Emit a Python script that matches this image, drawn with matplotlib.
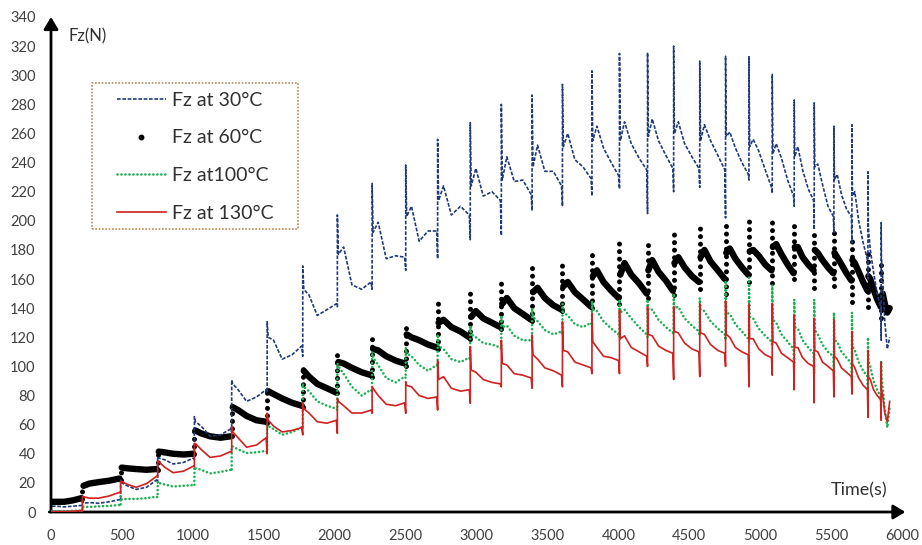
import numpy as np
import matplotlib
matplotlib.use("Agg")
import matplotlib.pyplot as plt
from matplotlib.lines import Line2D
from matplotlib.patches import Rectangle

plt.rcParams['font.family'] = ['Lato', 'DejaVu Sans']

# ---------------- data ----------------
cycle_start = [0, 221, 491, 752, 1011, 1274, 1524, 1775, 2019, 2264, 2501, 2726,
               2956, 3175, 3392, 3606, 3814, 4008, 4206, 4390, 4574, 4756, 4921,
               5085, 5240, 5381, 5520, 5647, 5760, 5853]
data_end = 5915
# relative position inside each loading cycle of the five read values
cycle_frac = [0.03, 0.18, 0.42, 0.70, 0.97]

x_ticks = list(range(0, 6001, 500))
y_ticks = list(range(0, 341, 20))

# Fz at 30°C  : [start, peak, mid, low, end] per cycle
fz30 = [[4, 4, 3.5, 4, 4.5], [6, 6.5, 6, 7, 8.5], [20, 18, 15.5, 17, 22],
        [37, 36, 33, 34, 37], [62, 59, 52, 53, 57], [88, 84, 76, 79, 84],
        [120, 118, 105, 108, 114], [153, 149, 135, 139, 143], [177, 182, 156, 153, 158],
        [192, 199, 174, 176, 175], [203, 210, 186, 193, 193], [214, 224, 204, 210, 204],
        [224, 236, 217, 220, 214], [228, 244, 227, 228, 218], [237, 252, 234, 234, 224],
        [251, 260, 242, 237, 229], [255, 265, 250, 240, 231], [255, 268, 253, 243, 235],
        [258, 270, 255, 245, 236], [260, 268, 253, 244, 236], [255, 266, 255, 245, 235],
        [258, 261, 250, 240, 232], [251, 256, 248, 235, 223], [246, 253, 243, 228, 217],
        [244, 251, 235, 222, 214], [237, 239, 225, 210, 203], [228, 232, 218, 208, 203],
        [217, 220, 200, 185, 173], [195, 180, 165, 150, 140], [175, 160, 130, 112, 120]]
fz30_top = [None, 9, 22, 38, 65.5, 90.7, 130.7, 169, 204, 225.7, 238.3, 256, 267.4,
            280, 286.4, 293.7, 303, 315, 315.5, 320, 309.7, 313, 312.7, 300.6, 283,
            281, 265, 266, 233.7, 198.7]
fz30_bottom = [None, 5, 8, 20, 36, 55, 82, 107, 141, 153, 166, 174, 187, 190, 207,
               210, 217, 222, 205, 220, 223, 202, 228, 219, 210, 194, 192, 185, 160, 118]

# Fz at 60°C
fz60 = [[7, 7, 7, 8, 9.5], [18, 19.5, 20.5, 21.5, 23], [30.5, 30, 29.5, 29, 29.5],
        [41.5, 41, 40, 39.5, 40], [56, 54, 52, 51, 52], [72, 70, 66, 63, 62],
        [83, 81, 78, 75, 73], [97, 93, 88, 85, 82], [103, 102, 99, 96, 94],
        [112, 111, 107, 104, 102], [122, 120, 118, 115, 113], [130, 132, 127, 124, 120],
        [134, 138, 133, 130, 127], [143, 147, 140, 136, 132], [151, 154, 147, 142, 139],
        [155, 158, 151, 146, 141], [162, 166, 158, 152, 147], [163, 171, 163, 157, 150],
        [166, 173, 165, 159, 152], [171, 175, 168, 162, 158], [175, 180, 172, 166, 160],
        [178, 181, 174, 168, 163], [179, 180, 176, 170, 166], [182, 184, 177, 170, 164],
        [182, 182, 175, 170, 166], [180, 178, 173, 168, 164], [178, 175, 170, 164, 159],
        [173, 171, 165, 158, 152], [162, 160, 153, 146, 141], [148, 150, 143, 137, 140]]
fz60_top = [None, 19, 31, 42, 57, 73.5, 86.5, 98.7, 112, 121.6, 129.6, 144.4, 151.3,
            159.3, 167.4, 173, 180.4, 185.6, 188, 192.5, 196.4, 201, 203.5, 201.7, 197,
            192.5, 193, 190, 180, 171]
fz60_bottom = [None, 9, 22, 29, 40, 52, 61, 72, 82, 93, 100, 112, 119, 126, 131, 138,
               140, 143, 147, 149, 153, 150, 158, 157, 160, 154, 155, 144, 141, 133]

# Fz at 100°C
fz100 = [[0.5, 0.5, 0.5, 0.8, 1], [3.5, 3.5, 3.8, 4.2, 4.8], [8.5, 9, 9, 9.5, 10.5],
         [20, 19, 17.5, 18, 18.5], [30, 29, 26.5, 27.5, 29], [45, 43, 40.5, 41, 42],
         [59, 57, 53, 55, 58], [86, 83, 76, 73, 71], [100, 95, 86, 80, 84],
         [106, 101, 92, 89, 93], [109, 107, 101, 97, 101], [114, 112, 105, 103, 106],
         [122, 120, 116, 115, 113], [127, 128, 121, 118, 118], [134, 131, 125, 122, 124],
         [137, 135, 129, 127, 130], [139, 138, 131, 126, 122], [137, 139, 133, 127, 122],
         [139, 139, 132, 127, 123], [140, 141, 133, 128, 124], [139, 138, 131, 126, 122],
         [137, 136, 129, 124, 119], [134, 133, 126, 121, 117], [132, 130, 122, 117, 112],
         [127, 126, 118, 113, 109], [125, 122, 115, 110, 107], [118, 117, 110, 106, 102],
         [114, 111, 103, 97, 93], [104, 100, 90, 84, 79], [93, 85, 70, 58, 72]]
fz100_top = [None, 4, 11, 21, 31, 45, 60, 88, 102, 110, 113, 122, 128, 135, 140, 143,
             145, 146, 146, 150, 147, 159, 161, 156, 146, 146, 137, 137, 120, 104]
fz100_bottom = [None, 1, 4, 10, 18, 28, 41, 57, 70, 82, 92, 100, 104, 112, 117, 122,
                128, 120, 120, 122, 121, 118, 117, 114, 100, 95, 96, 92, 84, 72]

# Fz at 130°C
fz130 = [[0.3, 0.3, 0.3, 0.5, 1], [10.5, 9.5, 9.5, 11, 13.5], [21, 19, 17, 19.5, 24.5],
         [34.5, 31, 27, 28, 31.5], [47, 43, 37.5, 38.5, 41.5], [55, 51, 44.5, 46, 51],
         [63, 59, 55, 56, 58], [71, 68, 62, 61, 63], [76, 73, 68, 68, 70],
         [85, 80, 74, 73, 75], [87, 86, 80, 78, 79], [91, 93, 85, 83, 84],
         [97.5, 96, 91, 89, 88], [102, 101, 95, 94, 92], [108, 105, 99, 97, 94],
         [111, 110, 103, 101, 99], [117, 113, 107, 106, 104], [119, 121, 113, 110, 107],
         [122, 121, 114, 111, 109], [124, 123, 116, 112, 110], [123, 122, 115, 111, 109],
         [122, 120, 113, 110, 108], [119, 119, 112, 108, 106], [117, 116, 109, 106, 103],
         [113, 113, 106, 102, 100], [111, 110, 103, 100, 97], [107, 105, 99, 96, 93],
         [102, 99, 92, 87, 84], [93, 91, 84, 80, 77], [84, 80, 68, 62, 76]]
fz130_top = [None, 10.5, 21, 35, 47, 58.6, 67.8, 74.7, 78, 86, 89.5, 104, 113.5, 118,
             121.6, 130.7, 136.5, 138.7, 141, 141, 143, 145, 143, 143, 135, 133, 132,
             124, 111, 103]
fz130_bottom = [None, 0, 13, 24, 31, 41, 40, 53, 54, 67.8, 67.8, 70, 74.7, 86, 85, 86,
                95, 95, 100, 91, 93, 100, 86, 94, 84, 75, 79, 81, 65, 63]

labels = ['Fz at 30°C', 'Fz at 60°C', 'Fz at100°C', 'Fz at 130°C']
c_blue, c_black, c_green, c_red = '#1F3A7A', '#000000', '#1DB050', '#D02020'


def build_line(vals, tops, bottoms):
    bounds = cycle_start + [data_end]
    t, v = [], []
    for k in range(len(cycle_start)):
        t0, t1 = bounds[k], bounds[k + 1]
        if k > 0:
            t += [t0, t0]
            v += [bottoms[k], tops[k]]
        for f, y in zip(cycle_frac, vals[k]):
            t.append(t0 + f * (t1 - t0))
            v.append(y)
    return t, v


def build_body(vals):
    bounds = cycle_start + [data_end]
    t, v = [], []
    for k in range(len(cycle_start)):
        t0, t1 = bounds[k], bounds[k + 1]
        for f, y in zip(cycle_frac, vals[k]):
            t.append(t0 + f * (t1 - t0))
            v.append(y)
        t.append(np.nan)
        v.append(np.nan)
    return t, v


W, H = 922, 545
fig = plt.figure(figsize=(W / 100, H / 100), dpi=100)
ax = fig.add_axes([51 / W, (H - 512) / H, 851 / W, 495 / H])
ax.set_xlim(0, 6000)
ax.set_ylim(0, 340)

# 60°C : dense black dots -> thick band + dotted vertical jumps
tb, vb = build_body(fz60)
ax.plot(tb, vb, color=c_black, lw=4.6, solid_capstyle='round',
        solid_joinstyle='round', zorder=2)
vl = ax.vlines(cycle_start[1:], fz60_bottom[1:], fz60_top[1:], colors=c_black,
               linewidths=3.6, linestyles=(0, (0.01, 1.5)), zorder=2)
vl.set_capstyle('round')

# 30°C
t, v = build_line(fz30, fz30_top, fz30_bottom)
ax.plot(t, v, color=c_blue, lw=1.2, ls=(0, (2.2, 1.0)), zorder=3)
# 100°C
t, v = build_line(fz100, fz100_top, fz100_bottom)
ax.plot(t, v, color=c_green, lw=1.9, ls=(0, (0.01, 1.5)), dash_capstyle='round',
        zorder=4)
# 130°C
t, v = build_line(fz130, fz130_top, fz130_bottom)
ax.plot(t, v, color=c_red, lw=1.2, zorder=5)

# axes styling
for s in ax.spines.values():
    s.set_visible(False)
ax.set_xticks(x_ticks)
ax.set_yticks(y_ticks)
ax.tick_params(length=0, labelsize=10.5, labelcolor='#404040')
ax.tick_params(axis='x', pad=12)
ax.tick_params(axis='y', pad=11)

arrow = dict(arrowstyle='-|>,head_length=0.6,head_width=0.36', lw=2, color='black',
             shrinkA=0, shrinkB=0, mutation_scale=12)
ax.annotate('', xy=(0, 1.0), xytext=(0, 0), xycoords='axes fraction',
            textcoords='axes fraction', arrowprops=arrow, annotation_clip=False)
ax.annotate('', xy=(1.004, 0), xytext=(-0.002, 0), xycoords='axes fraction',
            textcoords='axes fraction', arrowprops=arrow, annotation_clip=False)

ax.text(0.020, 0.9606, 'Fz(N)', transform=ax.transAxes, fontsize=12,
        va='center', ha='left', color='#303030')
ax.text(0.9824, 0.0444, 'Time(s)', transform=ax.transAxes, fontsize=13,
        va='center', ha='right', color='#303030')

# legend with dotted brown frame
ax.add_patch(Rectangle((0.0482, 0.5717), 0.2420, 0.2950, transform=ax.transAxes,
                       fill=False, edgecolor='#C08A60', lw=1.2, ls=(0, (1, 1)),
                       zorder=6))
handles = [Line2D([], [], color=c_blue, lw=1.2, ls=(0, (2.2, 1.0))),
           Line2D([], [], color=c_black, marker='o', ms=3.2, ls='none'),
           Line2D([], [], color=c_green, lw=1.9, ls=(0, (0.01, 1.5)),
                  dash_capstyle='round'),
           Line2D([], [], color=c_red, lw=1.2)]
leg = ax.legend(handles, labels, loc='upper left', bbox_to_anchor=(0.0776, 0.849),
                frameon=False, borderpad=0, borderaxespad=0, fontsize=14,
                handlelength=2.5, handletextpad=0.35, labelspacing=1.06)
for txt in leg.get_texts():
    txt.set_color('#303030')

fig.savefig('out.png', dpi=100)
